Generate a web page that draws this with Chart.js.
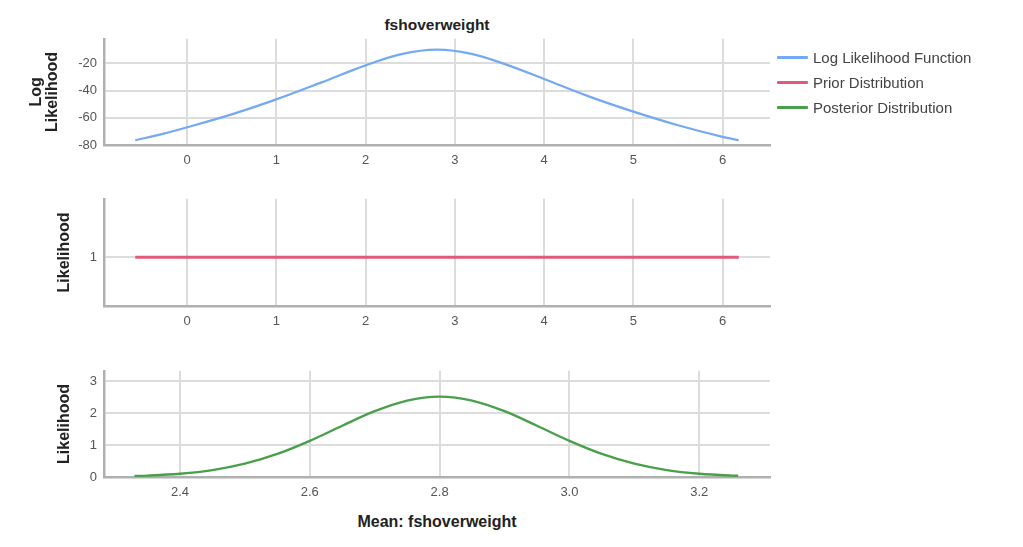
<!DOCTYPE html>
<html lang="en">
<head>
    <meta charset="UTF-8">
    <title>fshoverweight</title>
    <script src="https://cdn.jsdelivr.net/npm/chart.js"></script>
    <style>
        body { margin: 0; background: #fff; font-family: "Liberation Sans", Arial, sans-serif; }
        #wrap { position: relative; width: 1023px; height: 547px; overflow: hidden; }
        canvas { position: absolute; left: 0; }
        .title { position: absolute; left: 0; width: 874px; text-align: center; font-weight: bold; color: #222; }
        #legend { position: absolute; left: 777px; top: 44.5px; }
        .item { height: 25px; display: flex; align-items: center; font-size: 15px; color: #444; }
        .swatch { width: 31px; height: 3px; margin-right: 5px; border-radius: 1px; }
    </style>
</head>
<body>
<div id="wrap">
    <div class="title" style="top:16px; font-size:15.5px">fshoverweight</div>
    <canvas id="llChart" width="780" height="151" style="top:24px"></canvas>
    <canvas id="priorChart" width="780" height="152" style="top:184px"></canvas>
    <canvas id="postChart" width="780" height="151" style="top:356px"></canvas>
    <div class="title" style="top:513px; font-size:16px">Mean: fshoverweight</div>
    <div id="legend"></div>
</div>
<script>
    // series names and colours
    const seriesNames = ['Log Likelihood Function', 'Prior Distribution', 'Posterior Distribution'];
    const seriesColors = ['#74a9f3', '#e25a78', '#4a9f4a'];

    // log likelihood (top panel)
    const llX = [-0.58, -0.25, 0, 0.5, 1, 1.5, 2, 2.4, 2.8, 3.2, 3.6, 4, 4.5, 5, 5.5, 6, 6.18];
    const llY = [-76.5, -71.5, -67, -57.5, -46.5, -34.2, -21.5, -13.3, -10, -13.3, -21.5, -31.5, -44.3, -55.5, -65.5, -74, -76.5];

    // prior (middle panel)
    const priorX = [-0.58, 6.18];
    const priorY = [1, 1];

    // posterior (bottom panel)
    const postX = [2.33, 2.35, 2.40, 2.45, 2.50, 2.55, 2.60, 2.65, 2.70, 2.75, 2.80, 2.85, 2.90, 2.95, 3.00, 3.05, 3.10, 3.15, 3.20, 3.25, 3.26];
    const postY = [0.03, 0.044, 0.103, 0.217, 0.417, 0.722, 1.132, 1.607, 2.063, 2.397, 2.52, 2.397, 2.063, 1.607, 1.132, 0.722, 0.417, 0.217, 0.103, 0.044, 0.037];

    // tick labels
    const meanTicks = [0, 1, 2, 3, 4, 5, 6];
    const llTicks = [-80, -60, -40, -20];
    const priorTicks = [1];
    const postXTicks = [2.4, 2.6, 2.8, 3.0, 3.2];
    const postYTicks = [0, 1, 2, 3];

    const gridColor = '#dcdcdc';
    const axisColor = '#b0b0b0';
    const tickFont = { family: '"Liberation Sans", Arial, sans-serif', size: 13 };

    function points(xs, ys) {
        return xs.map((x, i) => ({ x: x, y: ys[i] }));
    }

    function xScale(min, max, ticks, decimals) {
        return {
            type: 'linear', min: min, max: max,
            afterBuildTicks: s => { s.ticks = ticks.map(v => ({ value: v })); },
            afterFit: s => { s.height = 30; },
            grid: { color: gridColor, lineWidth: 2, drawTicks: false },
            border: { color: axisColor, width: 2.5 },
            ticks: { color: '#555', font: tickFont, padding: 8, callback: v => v.toFixed(decimals) }
        };
    }

    function yScale(min, max, ticks, title, titlePad) {
        return {
            type: 'linear', min: min, max: max,
            afterBuildTicks: s => { s.ticks = ticks.map(v => ({ value: v })); },
            afterFit: s => { s.width = 104; },
            grid: { color: gridColor, lineWidth: 2, drawTicks: false },
            border: { color: axisColor, width: 2.5 },
            ticks: { color: '#555', font: tickFont, padding: 7 },
            title: {
                display: true, text: title, color: '#222',
                font: { family: '"Liberation Sans", Arial, sans-serif', size: 16, weight: 'bold', lineHeight: '16px' },
                padding: { top: titlePad, bottom: 0 }
            }
        };
    }

    function panel(id, data, color, width, xOpts, yOpts) {
        return new Chart(document.getElementById(id), {
            type: 'line',
            data: {
                datasets: [{
                    data: data,
                    borderColor: color,
                    borderWidth: width,
                    pointRadius: 0,
                    fill: false,
                    cubicInterpolationMode: 'monotone'
                }]
            },
            options: {
                responsive: false,
                animation: false,
                layout: { padding: { top: 1, right: 10, left: 0, bottom: 0 } },
                plugins: { legend: { display: false }, tooltip: { enabled: false } },
                scales: { x: xOpts, y: yOpts }
            }
        });
    }

    panel('llChart', points(llX, llY), seriesColors[0], 2.2,
        xScale(-0.93, 6.53, meanTicks, 0),
        yScale(-80, -2, llTicks, ['Log', 'Likelihood'], 29));

    panel('priorChart', points(priorX, priorY), seriesColors[1], 3,
        xScale(-0.93, 6.53, meanTicks, 0),
        yScale(0.5, 1.6, priorTicks, 'Likelihood', 57));

    panel('postChart', points(postX, postY), seriesColors[2], 2.4,
        xScale(2.283, 3.309, postXTicks, 1),
        yScale(0, 3.33, postYTicks, 'Likelihood', 57));

    // legend
    const legend = document.getElementById('legend');
    seriesNames.forEach((name, i) => {
        const item = document.createElement('div');
        item.className = 'item';
        item.innerHTML = `<span class="swatch" style="background:${seriesColors[i]}"></span>${name}`;
        legend.appendChild(item);
    });
</script>
</body>
</html>
